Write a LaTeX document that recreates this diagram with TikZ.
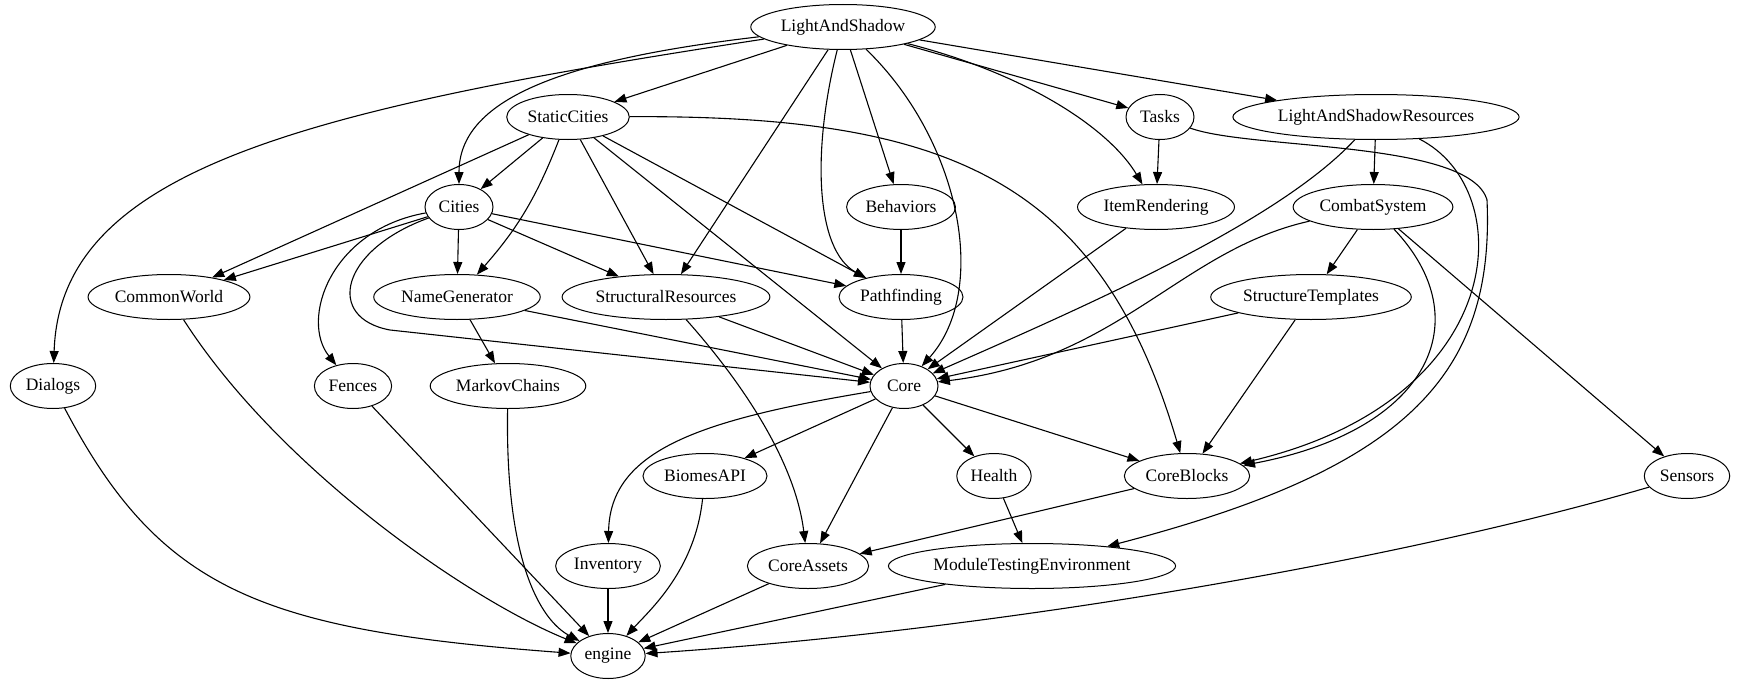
\documentclass[tikz,border=0pt]{standalone}
\usepackage{fontspec}
\setmainfont{Liberation Serif}
\usetikzlibrary{positioning}
\usetikzlibrary{shapes.geometric}
\usetikzlibrary{arrows.meta}

\begin{document}
\begin{tikzpicture}[x=1pt, y=-1pt,
    mod/.style={draw, ellipse, line width=1pt, inner xsep=3pt,
        minimum width=68pt, minimum height=45pt,
        font=\fontsize{17.5}{20}\selectfont},
    dep/.style={-{Triangle[length=12pt,width=9pt]}, line width=1.1pt}]
    \useasboundingbox (0,0) rectangle (1740,685);

    % Modules, row by row
    \node[mod] (las) at (843,27) {LightAndShadow};

    \node[mod] (staticcities) at (568,117) {StaticCities};
    \node[mod] (tasks) at (1160,117) {Tasks};
    \node[mod] (lasres) at (1376,117) {LightAndShadowResources};

    \node[mod] (cities) at (459,207) {Cities};
    \node[mod] (behaviors) at (901,207) {Behaviors};
    \node[mod] (itemrend) at (1156,207) {ItemRendering};
    \node[mod] (combat) at (1373,207) {CombatSystem};

    \node[mod] (commonworld) at (169,297) {CommonWorld};
    \node[mod] (namegen) at (457,297) {NameGenerator};
    \node[mod] (structres) at (666,297) {StructuralResources};
    \node[mod] (pathfinding) at (901,297) {Pathfinding};
    \node[mod] (structtempl) at (1311,297) {StructureTemplates};

    \node[mod] (dialogs) at (53,386) {Dialogs};
    \node[mod] (fences) at (353,386) {Fences};
    \node[mod] (markov) at (508,386) {MarkovChains};
    \node[mod] (core) at (904,386) {Core};

    \node[mod] (biomes) at (705,476) {BiomesAPI};
    \node[mod] (health) at (994,476) {Health};
    \node[mod] (coreblocks) at (1187,476) {CoreBlocks};
    \node[mod] (sensors) at (1687,476) {Sensors};

    \node[mod] (inventory) at (608,566) {Inventory};
    \node[mod] (coreassets) at (808,566) {CoreAssets};
    \node[mod] (mte) at (1032,566) {ModuleTestingEnvironment};

    \node[mod] (engine) at (608,656) {engine};

    % LightAndShadow
    \draw[dep] (las) .. controls (300,110) and (60,170) .. (dialogs);
    \draw[dep] (las) .. controls (560,60) and (459,100) .. (cities);
    \draw[dep] (las) -- (staticcities);
    \draw[dep] (las) -- (structres);
    \draw[dep] (las) .. controls (812,150) and (815,250) .. (pathfinding);
    \draw[dep] (las) -- (behaviors);
    \draw[dep] (las) .. controls (960,140) and (990,290) .. (core);
    \draw[dep] (las) .. controls (1030,75) and (1110,130) .. (itemrend);
    \draw[dep] (las) -- (tasks);
    \draw[dep] (las) -- (lasres);

    % StaticCities
    \draw[dep] (staticcities) -- (commonworld);
    \draw[dep] (staticcities) -- (cities);
    \draw[dep] (staticcities) to[bend left=10] (namegen);
    \draw[dep] (staticcities) -- (structres);
    \draw[dep] (staticcities) -- (core);
    \draw[dep] (staticcities) -- (pathfinding);
    \draw[dep] (staticcities) .. controls (950,115) and (1100,180) .. (coreblocks);

    % Cities
    \draw[dep] (cities) -- (commonworld);
    \draw[dep] (cities) .. controls (330,230) and (300,320) .. (fences);
    \draw[dep] (cities) .. controls (340,250) and (325,318) .. (390,330) -- (core);
    \draw[dep] (cities) -- (namegen);
    \draw[dep] (cities) -- (structres);
    \draw[dep] (cities) -- (pathfinding);

    % middle rows
    \draw[dep] (behaviors) -- (pathfinding);
    \draw[dep] (pathfinding) -- (core);
    \draw[dep] (namegen) -- (core);
    \draw[dep] (namegen) -- (markov);
    \draw[dep] (structres) -- (core);
    \draw[dep] (structres) .. controls (740,380) and (795,460) .. (coreassets);
    \draw[dep] (itemrend) -- (core);

    % right side
    \draw[dep] (lasres) .. controls (1280,220) and (1100,300) .. (core);
    \draw[dep] (lasres) -- (combat);
    \draw[dep] (lasres) .. controls (1520,190) and (1510,400) .. (coreblocks);
    \draw[dep] (tasks) -- (itemrend);
    \draw[dep] (tasks) .. controls (1250,150) and (1470,140) .. (1487,200)
        .. controls (1495,380) and (1400,470) .. (mte);
    \draw[dep] (combat) .. controls (1180,250) and (1120,360) .. (core);
    \draw[dep] (combat) -- (structtempl);
    \draw[dep] (combat) .. controls (1480,320) and (1430,430) .. (coreblocks);
    \draw[dep] (combat) -- (sensors);
    \draw[dep] (structtempl) -- (core);
    \draw[dep] (structtempl) -- (coreblocks);

    % Core
    \draw[dep] (core) .. controls (700,420) and (610,450) .. (inventory);
    \draw[dep] (core) -- (biomes);
    \draw[dep] (core) -- (coreassets);
    \draw[dep] (core) -- (health);
    \draw[dep] (core) -- (coreblocks);
    \draw[dep] (health) -- (mte);
    \draw[dep] (coreblocks) -- (coreassets);

    % into engine
    \draw[dep] (dialogs) .. controls (160,590) and (260,630) .. (engine);
    \draw[dep] (commonworld) .. controls (280,470) and (470,600) .. (engine);
    \draw[dep] (fences) -- (engine);
    \draw[dep] (markov) .. controls (505,560) and (540,620) .. (engine);
    \draw[dep] (inventory) -- (engine);
    \draw[dep] (biomes) .. controls (695,570) and (650,610) .. (engine);
    \draw[dep] (coreassets) -- (engine);
    \draw[dep] (mte) -- (engine);
    \draw[dep] (sensors) .. controls (1400,560) and (1000,630) .. (engine);
\end{tikzpicture}
\end{document}
